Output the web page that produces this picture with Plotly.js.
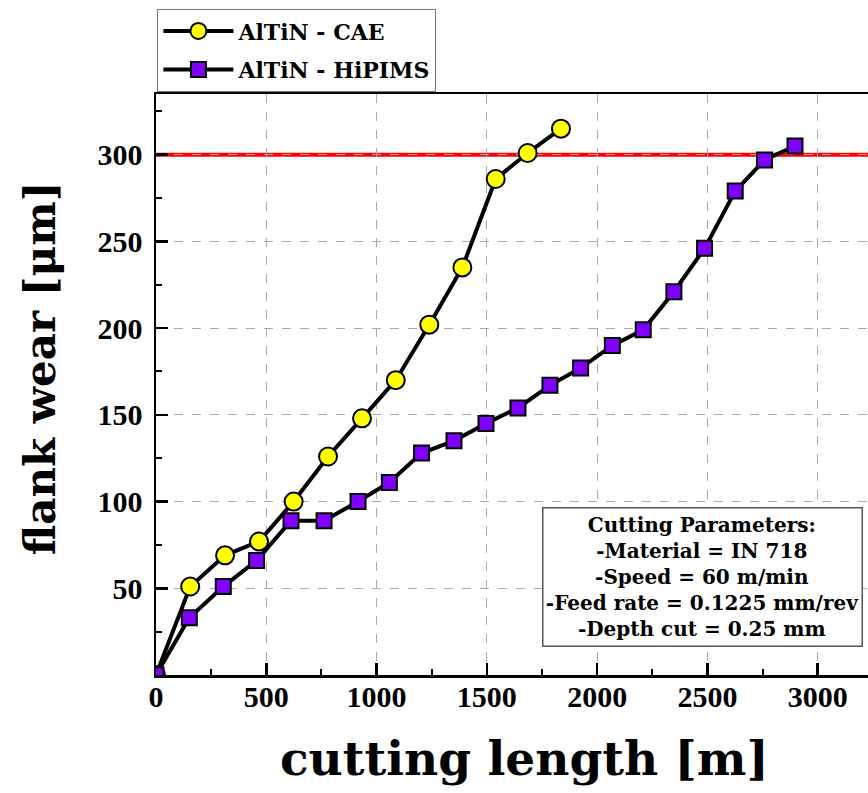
<!DOCTYPE html>
<html>
<head>
<meta charset="utf-8">
<script src="https://cdn.plot.ly/plotly-3.0.1.min.js"></script>
<style>html,body{margin:0;padding:0;background:#fff;}</style>
</head>
<body>
<div id="chart" style="width:868px;height:793px;"></div>
<script>
// ---- data ----
const caeName = "AlTiN - CAE";
const caeX = [0, 155, 313, 467, 624, 780, 934, 1087, 1239, 1389, 1540, 1685, 1836];
const caeY = [0, 51, 69, 77, 100, 126, 148, 170, 202, 235, 286, 301, 315];

const hipimsName = "AlTiN - HiPIMS";
const hipimsX = [0, 151, 305, 456, 612, 762, 916, 1058, 1204, 1351, 1496, 1641, 1786, 1925, 2069, 2209, 2348, 2487, 2626, 2759, 2897];
const hipimsY = [0, 33, 51, 66, 89, 89, 100, 111, 128, 135, 145, 154, 167, 177, 190, 199, 221, 246, 279, 297, 305];

const limitY = 300;

const xTickVals = [0, 500, 1000, 1500, 2000, 2500, 3000];
const xMinorVals = [250, 750, 1250, 1750, 2250, 2750, 3250];
const yTickVals = [50, 100, 150, 200, 250, 300];
const yMinorVals = [25, 75, 125, 175, 225, 275, 325];

const xTitle = "cutting length [m]";
const yTitle = "flank wear [μm]";
const infoLines = ["Cutting Parameters:", "-Material = IN 718", "-Speed = 60 m/min", "-Feed rate = 0.1225 mm/rev", "-Depth cut = 0.25 mm"];

// ---- chart ----
const FONT = "Liberation Serif";
const WIDE = "DejaVu Serif";
const traces = [
  {
    x: caeX, y: caeY, name: caeName, type: "scatter", mode: "lines+markers",
    legendgroup: "g1",
    line: {color: "#000", width: 4},
    marker: {symbol: "circle", size: 18, color: "#FFFF00", line: {color: "#000", width: 2}},
    cliponaxis: true
  },
  {
    x: hipimsX, y: hipimsY, name: hipimsName, type: "scatter", mode: "lines+markers",
    legendgroup: "g2",
    line: {color: "#000", width: 4},
    marker: {symbol: "square", size: 15, color: "#7F00FF", line: {color: "#000", width: 2}},
    cliponaxis: true
  }
];

const axisCommon = {
  showline: true, linecolor: "#000", linewidth: 2.5, mirror: true,
  ticks: "inside", ticklen: 12, tickwidth: 2.5, tickcolor: "#000",
  showgrid: true, gridcolor: "#aaa", griddash: "dash", gridwidth: 1,
  zeroline: false,
  tickfont: {family: FONT, size: 30, color: "#000", weight: "bold"}
};

const layout = {
  width: 868, height: 793,
  margin: {l: 156, r: 0, t: 94, b: 118},
  paper_bgcolor: "#fff", plot_bgcolor: "#fff",
  showlegend: true,
  legend: {
    x: 0.002, y: 1.146, xanchor: "left", yanchor: "top",
    bgcolor: "#fff", bordercolor: "#777", borderwidth: 1,
    font: {family: WIDE, size: 22, color: "#000", weight: "bold"},
    itemwidth: 70, tracegroupgap: 7
  },
  xaxis: Object.assign({}, axisCommon, {
    range: [0, 3228], tickmode: "array", tickvals: xTickVals,
    ticklabelstandoff: -7,
    minor: {tickmode: "array", tickvals: xMinorVals, ticks: "inside", ticklen: 6, tickwidth: 2, tickcolor: "#000", showgrid: false}
  }),
  yaxis: Object.assign({}, axisCommon, {
    range: [0, 335], tickmode: "array", tickvals: yTickVals,
    ticklabelstandoff: 5,
    minor: {tickmode: "array", tickvals: yMinorVals, ticks: "inside", ticklen: 6, tickwidth: 2, tickcolor: "#000", showgrid: false}
  }),
  shapes: [
    {type: "line", xref: "paper", x0: 0, x1: 1, yref: "y", y0: limitY, y1: limitY,
     line: {color: "#FF0000", width: 4}, layer: "below"}
  ],
  annotations: [
    {xref: "paper", yref: "paper", x: 0.5176, y: -0.143, xanchor: "center", yanchor: "middle",
     text: xTitle, showarrow: false, font: {family: WIDE, size: 47, color: "#000", weight: "bold"}},
    {xref: "paper", yref: "paper", x: -0.163, y: 0.528, xanchor: "center", yanchor: "middle",
     text: yTitle, textangle: -90, showarrow: false, font: {family: WIDE, size: 42, color: "#000", weight: "bold"}},
    {xref: "paper", yref: "paper", x: 0.767, y: 0.1695, xanchor: "center", yanchor: "middle",
     text: infoLines.join("<br>"), showarrow: false, align: "center",
     font: {family: WIDE, size: 20, color: "#000", weight: "bold"},
     bgcolor: "#fff", bordercolor: "#555", borderwidth: 1.5, borderpad: 2,
     width: 314, height: 133}
  ]
};

Plotly.newPlot("chart", traces, layout, {displayModeBar: false, staticPlot: true});
</script>
</body>
</html>
